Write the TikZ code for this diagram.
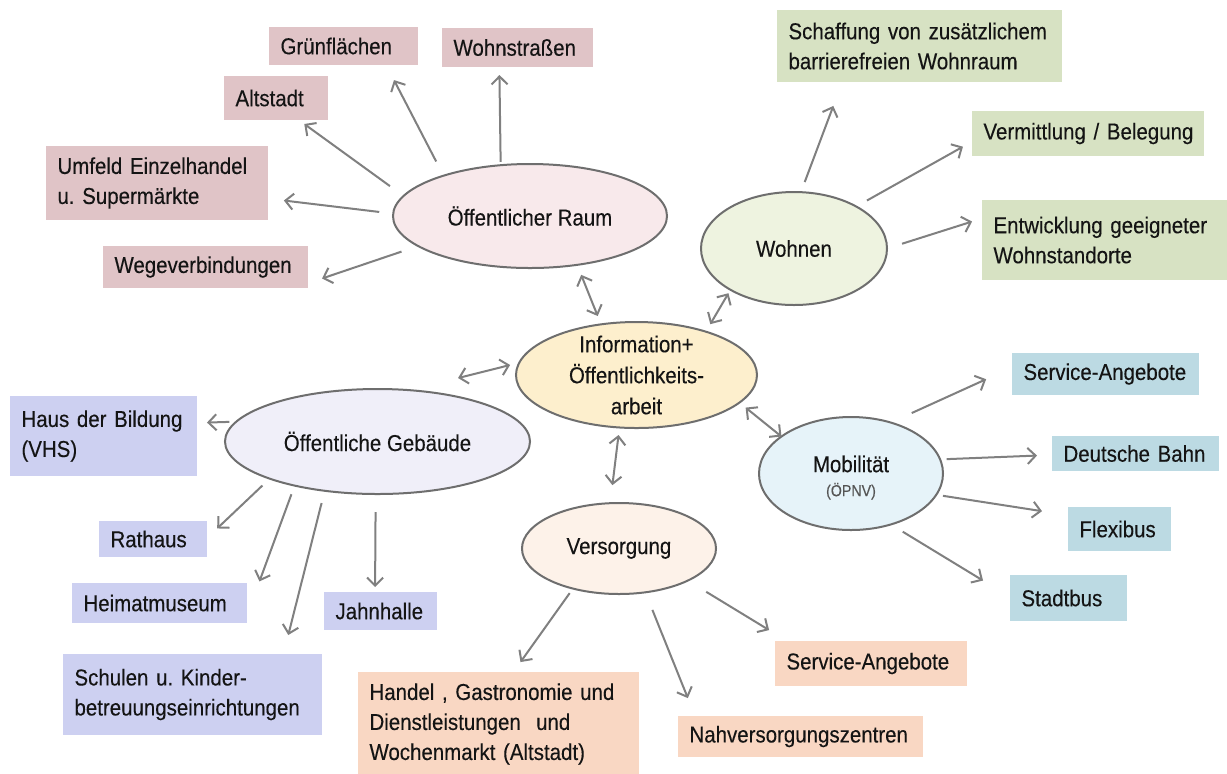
\documentclass[tikz,border=0pt]{standalone}
\usepackage{fontspec}
\setmainfont{Liberation Sans}[FakeStretch=0.89,FakeBold=0.25]
\usetikzlibrary{arrows.meta,shapes.geometric}
\definecolor{txt}{HTML}{141414}
\definecolor{pinkbox}{HTML}{E0C4C7}
\definecolor{oerfill}{HTML}{F8E9EB}
\definecolor{greenbox}{HTML}{D7E2C3}
\definecolor{wohnfill}{HTML}{EEF3E0}
\definecolor{infofill}{HTML}{FDEFCD}
\definecolor{lavbox}{HTML}{CDD0F1}
\definecolor{oegfill}{HTML}{F0EFF9}
\definecolor{orbox}{HTML}{F9D7C3}
\definecolor{versfill}{HTML}{FDF2E9}
\definecolor{tealbox}{HTML}{BCDAE3}
\definecolor{mobfill}{HTML}{E6F3F9}
\definecolor{elldraw}{HTML}{6E6E6E}
\definecolor{arrowgray}{HTML}{808080}
\definecolor{smallgray}{HTML}{555555}
\newcommand\oneln[1]{\mbox{#1}}
\frenchspacing
\begin{document}
\begin{tikzpicture}[x=0.5pt,y=-0.5pt,
  every node/.style={font=\fontsize{11.5pt}{15pt}\selectfont, text=txt},
  bx/.style={rectangle, outer sep=0pt, inner xsep=5.75pt, inner ysep=0pt, align=left},
  ell/.style={ellipse, draw=elldraw, line width=1pt, outer sep=0pt, inner sep=0pt, align=center},
  arr/.style={draw=arrowgray, line width=1pt, -{Straight Barb[length=4pt,width=8pt]}},
  darr/.style={draw=arrowgray, line width=1pt, {Straight Barb[length=4pt,width=8pt]}-{Straight Barb[length=4pt,width=8pt]}}
]
\useasboundingbox (0,0) rectangle (1227,773);
\fill[white] (0,0) rectangle (1227,773);

% pink boxes
\node[bx, fill=pinkbox, text width=63pt, minimum height=19pt] (gruen) at (343.5,46) {Grünflächen};
\node[bx, fill=pinkbox, text width=64pt, minimum height=19.5pt] (wstr) at (517.5,47.5) {Wohnstraßen};
\node[bx, fill=pinkbox, text width=40.5pt, minimum height=22pt] (alt) at (276,98) {Altstadt};
\node[bx, fill=pinkbox, text width=99.5pt, minimum height=37pt] (umfeld) at (157,183) {\oneln{Umfeld Einzelhandel}\\\oneln{u. Supermärkte}};
\node[bx, fill=pinkbox, text width=91pt, minimum height=21pt] (weg) at (205.5,267) {Wegeverbindungen};

% green boxes
\node[bx, fill=greenbox, text width=131pt, minimum height=36pt] (schaff) at (919.5,46) {\oneln{Schaffung von zusätzlichem}\\\oneln{barrierefreien Wohnraum}};
\node[bx, fill=greenbox, text width=104.5pt, minimum height=22.5pt] (verm) at (1088,133.5) {\oneln{Vermittlung / Belegung}};
\node[bx, fill=greenbox, text width=111pt, minimum height=40pt] (entw) at (1104.5,240) {\oneln{Entwicklung geeigneter}\\\oneln{Wohnstandorte}};

% lavender boxes
\node[bx, fill=lavbox, text width=82pt, minimum height=40pt] (haus) at (103.5,436) {\oneln{Haus der Bildung}\\(VHS)};
\node[bx, fill=lavbox, text width=42.5pt, minimum height=18pt] (rat) at (153,539) {Rathaus};
\node[bx, fill=lavbox, text width=76pt, minimum height=20pt] (heimat) at (159.5,603) {Heimatmuseum};
\node[bx, fill=lavbox, text width=45pt, minimum height=19pt] (jahn) at (380.5,611) {Jahnhalle};
\node[bx, fill=lavbox, text width=118pt, minimum height=40.5pt] (schul) at (192.5,694.5) {\oneln{Schulen u. Kinder-}\\\oneln{betreuungseinrichtungen}};

% orange boxes
\node[bx, fill=orbox, text width=129pt, minimum height=52pt] (handel) at (498.5,724) {\oneln{Handel , Gastronomie und}\\\oneln{Dienstleistungen\ \ und}\\\oneln{Wochenmarkt (Altstadt)}};
\node[bx, fill=orbox, text width=84.5pt, minimum height=22.5pt] (svc2) at (871,663.5) {\oneln{Service-Angebote}};
\node[bx, fill=orbox, text width=111pt, minimum height=20.5pt] (nahv) at (800.5,736.5) {\oneln{Nahversorgungszentren}};

% teal boxes
\node[bx, fill=tealbox, text width=82pt, minimum height=21pt] (svc1) at (1105.5,374) {\oneln{Service-Angebote}};
\node[bx, fill=tealbox, text width=72pt, minimum height=17.5pt] (db) at (1135.5,453.5) {\oneln{Deutsche Bahn}};
\node[bx, fill=tealbox, text width=40pt, minimum height=22pt] (flex) at (1119.5,529) {Flexibus};
\node[bx, fill=tealbox, text width=47pt, minimum height=23pt] (stadt) at (1068.5,598) {Stadtbus};

% ellipses
\node[ell, fill=oerfill, minimum width=137pt, minimum height=52pt] (oer) at (530,216) {Öffentlicher Raum};
\node[ell, fill=wohnfill, minimum width=93pt, minimum height=56.5pt] (wohnen) at (794,248.5) {Wohnen};
\node[ell, fill=infofill, minimum width=120.5pt, minimum height=53pt] (info) at (636.5,375) {};
\node[align=center, font=\fontsize{11.5pt}{15.5pt}\selectfont] (infotxt) at (info) {Information+\\Öffentlichkeits-\\arbeit};
\node[ell, fill=oegfill, minimum width=152.5pt, minimum height=52.5pt] (oeg) at (377.5,441.5) {Öffentliche Gebäude};
\node[ell, fill=versfill, minimum width=97pt, minimum height=45.5pt] (vers) at (619,548.5) {Versorgung};
\node[ell, fill=mobfill, minimum width=92pt, minimum height=56.5pt] (mob) at (851,473.5) {};
\node[align=center, yshift=-2pt] (mobtxt) at (mob) {Mobilität\\[-3pt]{\fontsize{8pt}{10pt}\selectfont\color{smallgray}(ÖPNV)}};

% arrows from Oeffentlicher Raum
\draw[arr, shorten <=8pt, shorten >=8.5pt] (oer.155.6) -- (gruen.-24.4);
\draw[arr, shorten <=1.7pt, shorten >=4pt] (oer.120.6) -- (wstr.-133.6);
\draw[arr, shorten <=8.4pt, shorten >=3.4pt] (oer.171.5) -- (alt.-44.2);
\draw[arr, shorten <=7pt, shorten >=8pt] (oer.179.5) -- (umfeld.-8.2);
\draw[arr, shorten <=8.75pt, shorten >=7.4pt] (oer.195.2) -- (weg.-9.9);

% arrows from Wohnen
\draw[arr, shorten <=5.4pt, shorten >=12.8pt] (wohnen.83.6) -- (schaff.-155.4);
\draw[arr, shorten <=6.15pt, shorten >=5.2pt] (wohnen.34.7) -- (verm.-176.8);
\draw[arr, shorten <=7.9pt, shorten >=5.2pt] (wohnen.-0.8) -- (entw.170.7);

% double arrows with Information
\draw[darr, shorten <=5.4pt, shorten >=4.5pt] (oer.-46.1) -- (info.125.6);
\draw[darr, shorten <=2pt, shorten >=4.35pt] (wohnen.-147.4) -- (info.32.1);
\draw[darr, shorten <=25pt, shorten >=4.75pt] (oeg.58) -- (info.174);
\draw[darr, shorten <=3.8pt, shorten >=9.1pt] (info.-108.6) -- (vers.101.5);
\draw[darr, shorten <=4pt, shorten >=0pt] (info.-15.3) -- (mob.152.6);

% arrows from Mobilitaet
\draw[arr, shorten <=11.5pt, shorten >=14.2pt] (mob.52.8) -- (svc1.176.7);
\draw[arr, shorten <=3.25pt, shorten >=7.5pt] (mob.9.8) -- (db.-179.3);
\draw[arr, shorten <=3.4pt, shorten >=13.15pt] (mob.-14.9) -- (flex.165.7);
\draw[arr, shorten <=7pt, shorten >=15.8pt] (mob.-52.8) -- (stadt.179.3);

% arrows from Versorgung
\draw[arr, shorten <=10.8pt, shorten >=10.5pt] (vers.-25.1) -- (svc2.165.2);
\draw[arr, shorten <=9.5pt, shorten >=9.65pt] (vers.-59.1) -- (nahv.169.2);
\draw[arr, shorten <=2.8pt, shorten >=6.1pt] (vers.-139.5) -- (handel.74.5);

% arrows from Oeffentliche Gebaeude
\draw[arr, shorten <=3.45pt, shorten >=5pt] (oeg.172.2) -- (haus.8.5);
\draw[arr, shorten <=5pt, shorten >=7pt] (oeg.-161.5) -- (rat.1.3);
\draw[arr, shorten <=4.65pt, shorten >=18.05pt] (oeg.-152.6) -- (heimat.-8.5);
\draw[arr, shorten <=6.35pt, shorten >=9.8pt] (oeg.-137.3) -- (schul.24.3);
\draw[arr, shorten <=9pt, shorten >=2.5pt] (oeg.-92.7) -- (jahn.106.1);
\end{tikzpicture}
\end{document}
